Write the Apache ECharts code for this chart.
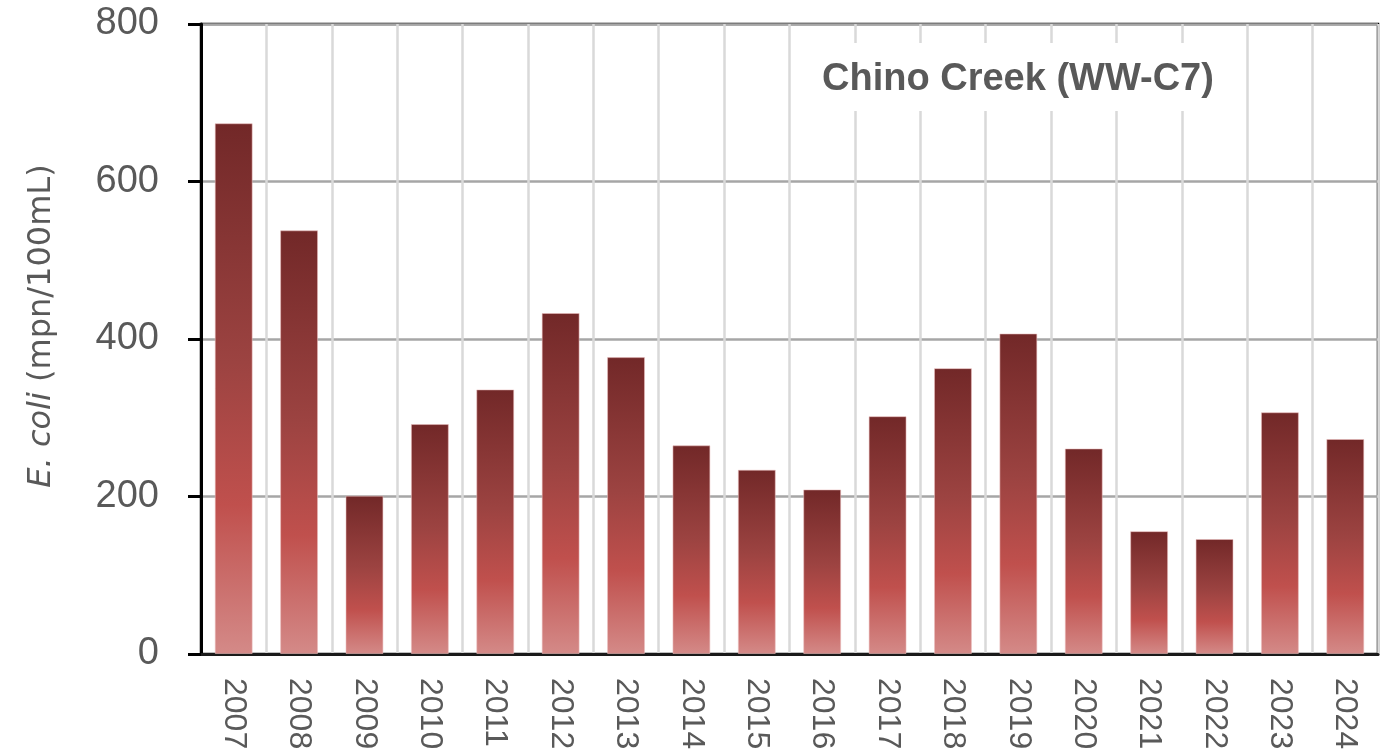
<!DOCTYPE html>
<html>
<head>
<meta charset="utf-8">
<script src="https://cdn.jsdelivr.net/npm/echarts@6/dist/echarts.min.js"></script>
<style>
html,body{margin:0;padding:0;background:#fff;}
#chart{width:1380px;height:754px;}
</style>
</head>
<body>
<div id="chart"></div>
<script>
var years = ['2007','2008','2009','2010','2011','2012','2013','2014','2015','2016','2017','2018','2019','2020','2021','2022','2023','2024'];
var ecoli = [674, 538, 201, 292, 336, 433, 377, 265, 234, 209, 302, 363, 407, 261, 156, 146, 307, 273];
var yTicks = [0, 200, 400, 600, 800];
var chartTitle = 'Chino Creek (WW-C7)';

var chart = echarts.init(document.getElementById('chart'), null, {renderer: 'canvas'});
var FONT = '"Liberation Sans", Arial, sans-serif';
var NAMEFONT = '"DejaVu Sans", sans-serif';
var barGrad = new echarts.graphic.LinearGradient(0, 0, 0, 1, [
  {offset: 0, color: '#722828'},
  {offset: 0.45, color: '#9c4341'},
  {offset: 0.72, color: '#c0504d'},
  {offset: 1, color: '#d48a88'}
]);
chart.setOption({
  animation: false,
  backgroundColor: '#fff',
  title: {
    text: chartTitle,
    left: 798, top: 43,
    padding: [18, 22, 12, 24],
    backgroundColor: '#fff',
    textStyle: {fontFamily: FONT, fontWeight: 'bold', fontSize: 38, color: '#595959'}
  },
  grid: {
    left: 201, right: 2, top: 24, bottom: 100,
    show: true, borderColor: '#000', borderWidth: 2.5, backgroundColor: 'transparent'
  },
  xAxis: {
    type: 'category',
    data: years,
    boundaryGap: true,
    axisLine: {show: true, lineStyle: {color: '#1a1a1a', width: 3}},
    axisTick: {show: false},
    splitLine: {show: true, lineStyle: {color: '#d9d9d9', width: 2.5}},
    axisLabel: {rotate: -90, margin: 24, fontSize: 32, color: '#595959', fontFamily: FONT, interval: 0}
  },
  yAxis: {
    type: 'value',
    min: yTicks[0], max: yTicks[yTicks.length - 1], interval: 200,
    name: '{i|E. coli} (mpn/100mL)',
    nameLocation: 'middle',
    nameRotate: 90,
    nameGap: 143,
    nameTextStyle: {
      fontFamily: NAMEFONT, fontSize: 32, color: '#595959',
      padding: [0, 0, 0, 26],
      rich: {i: {fontFamily: NAMEFONT, fontSize: 32, color: '#595959', fontStyle: 'italic'}}
    },
    axisLine: {show: true, lineStyle: {color: '#000', width: 3}},
    axisTick: {show: true, inside: false, length: 13, lineStyle: {color: '#000', width: 3}},
    splitLine: {show: true, lineStyle: {color: '#a6a6a6', width: 2.5}},
    axisLabel: {margin: 42, fontSize: 38, color: '#595959', fontFamily: FONT}
  },
  series: [{
    type: 'bar',
    data: ecoli,
    barCategoryGap: '42%',
    itemStyle: {color: barGrad, borderColor: 'rgba(235,190,190,0.55)', borderWidth: 1}
  }]
});
</script>
</body>
</html>
